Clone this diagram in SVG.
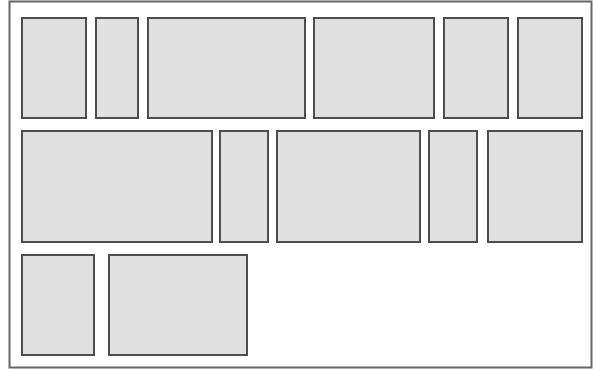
<svg xmlns="http://www.w3.org/2000/svg" width="593" height="370" viewBox="0 0 593 370">
<style>
.frame{fill:#ffffff;stroke:#666666;stroke-width:2}
.box{fill:#e0e0e0;stroke:#4d4d4d;stroke-width:2}
</style>
<rect width="593" height="370" fill="#ffffff"/>
<rect class="frame" x="9.5" y="1.5" width="582" height="366"/>
<g id="n1"><rect class="box" x="22" y="18" width="64" height="100"/></g>
<g id="n2"><rect class="box" x="96" y="18" width="42" height="100"/></g>
<g id="n3"><rect class="box" x="148" y="18" width="157" height="100"/></g>
<g id="n4"><rect class="box" x="314" y="18" width="120" height="100"/></g>
<g id="n5"><rect class="box" x="444" y="18" width="64" height="100"/></g>
<g id="n6"><rect class="box" x="518" y="18" width="64" height="100"/></g>
<g id="n7"><rect class="box" x="22" y="131" width="190" height="111"/></g>
<g id="n8"><rect class="box" x="220" y="131" width="48" height="111"/></g>
<g id="n9"><rect class="box" x="277" y="131" width="143" height="111"/></g>
<g id="n10"><rect class="box" x="429" y="131" width="48" height="111"/></g>
<g id="n11"><rect class="box" x="488" y="131" width="94" height="111"/></g>
<g id="n12"><rect class="box" x="22" y="255" width="72" height="100"/></g>
<g id="n13"><rect class="box" x="109" y="255" width="138" height="100"/></g>
<g id="connectors"></g>
</svg>
